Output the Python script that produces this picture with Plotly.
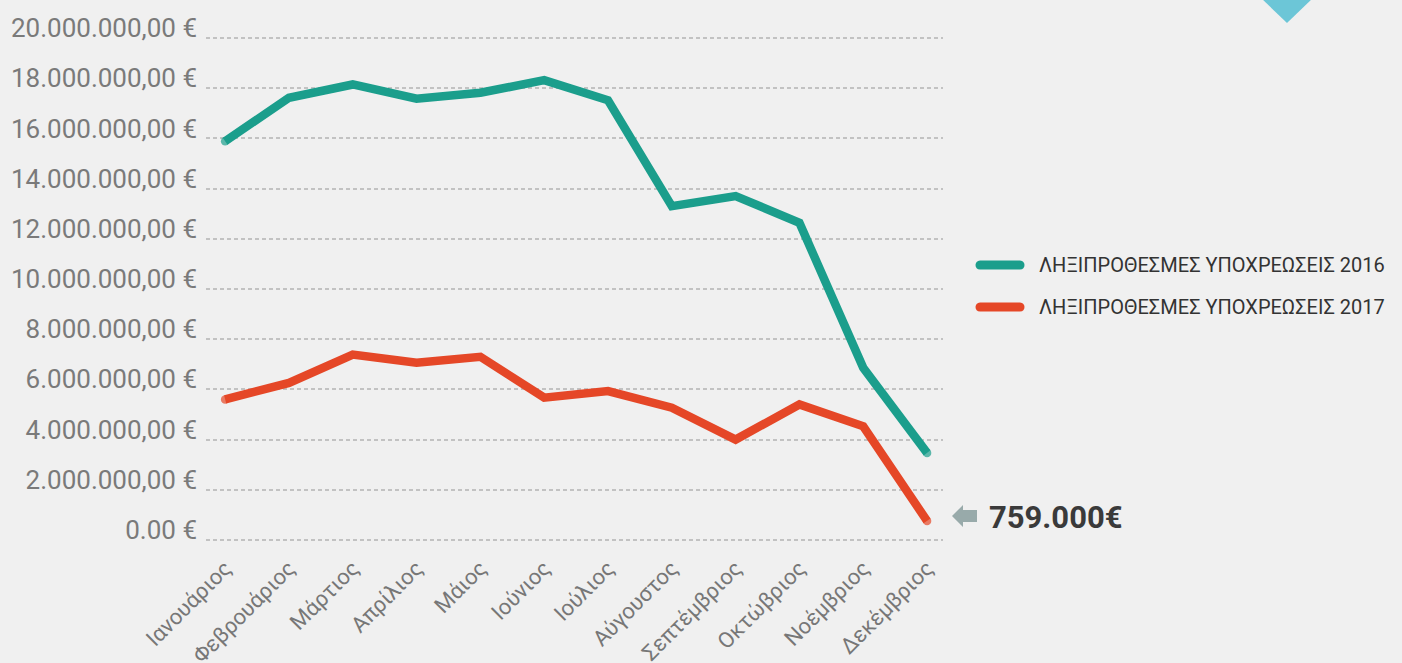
import plotly.graph_objects as go

months = ["Ιανουάριος", "Φεβρουάριος", "Μάρτιος", "Απρίλιος", "Μάιος", "Ιούνιος",
          "Ιούλιος", "Αύγουστος", "Σεπτέμβριος", "Οκτώβριος", "Νοέμβριος", "Δεκέμβριος"]
values_2016 = [15890000, 17620000, 18150000, 17580000, 17820000, 18320000,
               17520000, 13300000, 13700000, 12640000, 6860000, 3470000]
values_2017 = [5600000, 6260000, 7390000, 7060000, 7300000, 5670000,
               5930000, 5270000, 4000000, 5400000, 4530000, 759000]
name_2016 = "ΛΗΞΙΠΡΟΘΕΣΜΕΣ ΥΠΟΧΡΕΩΣΕΙΣ 2016"
name_2017 = "ΛΗΞΙΠΡΟΘΕΣΜΕΣ ΥΠΟΧΡΕΩΣΕΙΣ 2017"
y_tickvals = [0, 2e6, 4e6, 6e6, 8e6, 10e6, 12e6, 14e6, 16e6, 18e6, 20e6]
y_ticktext = ["0.00 €", "2.000.000,00 €", "4.000.000,00 €", "6.000.000,00 €",
              "8.000.000,00 €", "10.000.000,00 €", "12.000.000,00 €", "14.000.000,00 €",
              "16.000.000,00 €", "18.000.000,00 €", "20.000.000,00 €"]
callout_text = "759.000€"

TEAL = "#1b9e8c"
ORANGE = "#e54727"
BG = "#f0f0f0"
LW = 8.5

W, H = 1402, 663
L, R, T, B = 206, 459, 28, 113
PW, PH = W - L - R, H - T - B


def px(x):
    return (x - L) / PW


def py(y):
    return (H - B - y) / PH


def end_sizes(n):
    return [LW] + [0] * (n - 2) + [LW]


fig = go.Figure()
for vals, col, nm in [(values_2016, TEAL, name_2016), (values_2017, ORANGE, name_2017)]:
    fig.add_trace(go.Scatter(
        x=months, y=vals, mode="lines+markers", name=nm,
        line=dict(color=col, width=LW),
        marker=dict(color=col, size=end_sizes(len(vals)), line=dict(width=0)),
        showlegend=False,
    ))

shapes = []
annotations = []
# manual legend
for yy, col, nm in [(265, TEAL, name_2016), (307, ORANGE, name_2017)]:
    shapes.append(dict(
        type="path", xref="paper", yref="paper", xsizemode="pixel", ysizemode="pixel",
        xanchor=px(1000), yanchor=py(yy),
        path="M-20,4.6 L20,4.6 C26,4.6 26,-4.6 20,-4.6 L-20,-4.6 C-26,-4.6 -26,4.6 -20,4.6 Z",
        fillcolor=col, line=dict(width=0),
    ))
    annotations.append(dict(
        xref="paper", yref="paper", x=px(1037), y=py(yy), xanchor="left", yanchor="middle",
        text=nm, showarrow=False, font=dict(family="Roboto", size=20, color="#333333"),
    ))

# arrow + callout
shapes.append(dict(
    type="path", xref="paper", yref="paper", xsizemode="pixel", ysizemode="pixel",
    xanchor=px(965), yanchor=py(516),
    path="M-13,0 L-2,11 L-2,6 L12,6 L12,-6 L-2,-6 L-2,-11 Z",
    fillcolor="#98aaaa", line=dict(width=0),
))
annotations.append(dict(
    xref="paper", yref="paper", x=px(987), y=py(517), xanchor="left", yanchor="middle",
    text="<b>" + callout_text + "</b>", showarrow=False,
    font=dict(family="Roboto", size=31, color="#3a3a3a"),
))
# decorative triangle top right
shapes.append(dict(
    type="path", xref="paper", yref="paper", xsizemode="pixel", ysizemode="pixel",
    xanchor=px(1287), yanchor=py(0),
    path="M-27,3 L27,3 L0,-23 Z",
    fillcolor="#6cc6d7", line=dict(width=0),
))

fig.update_layout(
    width=W, height=H,
    margin=dict(l=L, r=R, t=T, b=B, pad=0, autoexpand=False),
    paper_bgcolor=BG, plot_bgcolor=BG,
    shapes=shapes, annotations=annotations,
    showlegend=False,
    xaxis=dict(
        type="category", range=[-0.3, 11.25], showgrid=False, zeroline=False, showline=False,
        tickangle=-45, tickfont=dict(family="Roboto", size=22, color="#777777"),
        ticks="", ticklabelstandoff=0, automargin=False,
    ),
    yaxis=dict(
        range=[-0.4e6, 20.4e6], tickvals=y_tickvals, ticktext=y_ticktext,
        showgrid=True, gridcolor="#c2c2c2", gridwidth=2, griddash="4px,3px",
        zeroline=False, showline=False, ticks="", automargin=False,
        ticklabelstandoff=8, ticklabelshift=-10,
        tickfont=dict(family="Roboto", size=26, color="#7a7a7a"),
    ),
)

fig.write_html(
    "out.html",
    config={"displayModeBar": False},
    post_script="document.body.style.margin='0';document.body.style.background='" + BG + "';",
)
